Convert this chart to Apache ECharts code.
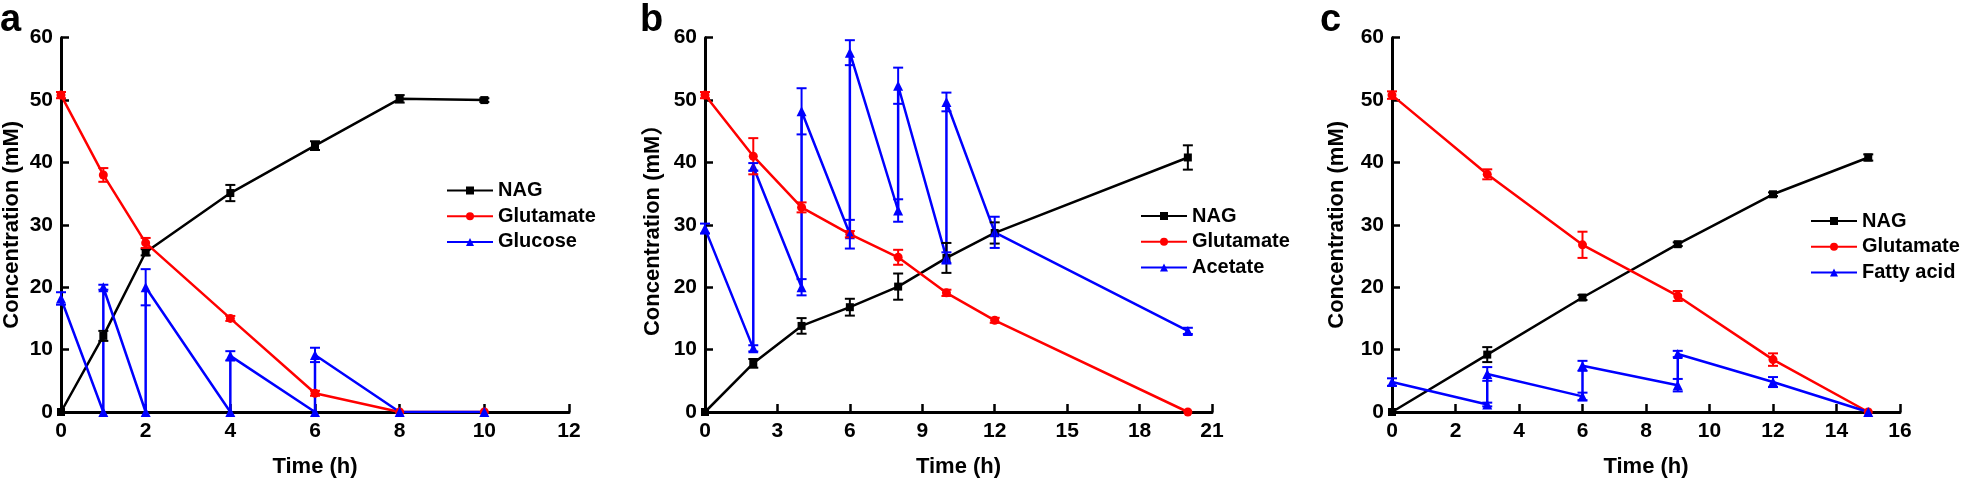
<!DOCTYPE html>
<html>
<head>
<meta charset="utf-8">
<script src="https://cdn.jsdelivr.net/npm/echarts@6/dist/echarts.min.js"></script>
<style>html,body{margin:0;padding:0;background:#fff}#c{width:1961px;height:479px}</style>
</head>
<body>
<div id="c"></div>
<script>
// ---------- data ----------
// panel a
const aTime = [0, 1, 2, 4, 6, 8, 10];
const aNAG = [0, 12.2, 25.6, 35.1, 42.7, 50.2, 50.0];
const aNAGErr = [0, 0.8, 0.5, 1.3, 0.7, 0.6, 0.3];
const aGlu = [50.8, 38.0, 27.1, 15.0, 3.0, 0, 0];
const aGluErr = [0.5, 1.1, 0.8, 0.4, 0.4, 0, 0];
const aCoTime = [0, 1, 1, 2, 2, 4, 4, 6, 6, 8, 10];
const aCo = [18.2, 0, 20.0, 0, 20.0, 0, 9.0, 0, 9.15, 0, 0];
const aCoErr = [1.0, 0, 0.4, 0, 2.9, 0, 0.75, 0, 1.15, 0, 0];
const aXTicks = { min: 0, max: 12, interval: 2 };
// panel b
const bTime = [0, 2, 4, 6, 8, 10, 12, 20];
const bNAG = [0, 7.8, 13.8, 16.8, 20.1, 24.7, 28.7, 40.8];
const bNAGErr = [0, 0.7, 1.25, 1.35, 2.1, 2.4, 1.7, 1.95];
const bGlu = [50.8, 41.0, 32.8, 28.5, 24.8, 19.1, 14.7, 0];
const bGluErr = [0.5, 2.9, 0.8, 0.5, 1.2, 0.5, 0.4, 0];
const bCoTime = [0, 2, 2, 4, 4, 6, 6, 8, 8, 10, 10, 12, 20];
const bCo = [29.4, 10.2, 39.3, 20.0, 48.2, 28.5, 57.6, 32.3, 52.3, 24.7, 49.7, 28.8, 13.0];
const bCoErr = [0.8, 0.5, 0.6, 1.3, 3.7, 2.3, 2.0, 1.8, 2.9, 0.9, 1.5, 2.5, 0.5];
const bXTicks = { min: 0, max: 21, interval: 3 };
// panel c
const cTime = [0, 3, 6, 9, 12, 15];
const cNAG = [0, 9.2, 18.35, 26.9, 34.9, 40.8];
const cNAGErr = [0, 1.2, 0.4, 0.3, 0.3, 0.5];
const cGlu = [50.8, 38.1, 26.8, 18.6, 8.4, 0];
const cGluErr = [0.6, 0.8, 2.1, 0.8, 1.0, 0];
const cCoTime = [0, 3, 3, 6, 6, 9, 9, 12, 15];
const cCo = [4.8, 1.2, 6.1, 2.5, 7.4, 4.3, 9.3, 4.8, 0];
const cCoErr = [0.6, 0.3, 1.1, 0.6, 0.8, 1.0, 0.5, 0.8, 0];
const cXTicks = { min: 0, max: 16, interval: 2 };

const yTicks = { min: 0, max: 60, interval: 10 };
const panelLetters = ['a', 'b', 'c'];
const coNames = ['Glucose', 'Acetate', 'Fatty acid'];
const yNames = ['Concentration (mM)', 'Concentration (mM\uFF09', 'Concentration (mM)'];
const xName = 'Time (h)';

// ---------- chart ----------
const FONT = '"Liberation Sans", Arial, "Noto Sans CJK SC", sans-serif';
const BLACK = '#000000', RED = '#ff0000', BLUE = '#0000ff';

const panels = [
  { t: aTime, nag: aNAG, nagE: aNAGErr, glu: aGlu, gluE: aGluErr, ct: aCoTime, co: aCo, coE: aCoErr, xt: aXTicks,
    grid: { left: 61, width: 508 }, legend: { left: 446, top: 178 }, yGap: 38, letterX: 0 },
  { t: bTime, nag: bNAG, nagE: bNAGErr, glu: bGlu, gluE: bGluErr, ct: bCoTime, co: bCo, coE: bCoErr, xt: bXTicks,
    grid: { left: 705, width: 507 }, legend: { left: 1140, top: 203.5 }, yGap: 41, letterX: 640 },
  { t: cTime, nag: cNAG, nagE: cNAGErr, glu: cGlu, gluE: cGluErr, ct: cCoTime, co: cCo, coE: cCoErr, xt: cXTicks,
    grid: { left: 1392, width: 508 }, legend: { left: 1810, top: 208.5 }, yGap: 44, letterX: 1320 }
];

function pairs(xs, ys) { return xs.map((x, i) => [x, ys[i]]); }
function triples(xs, ys, es) { return xs.map((x, i) => [x, ys[i], es[i]]); }

function errRender(color) {
  return function (params, api) {
    const x = api.value(0), y = api.value(1), e = api.value(2);
    if (!e) return null;
    const top = api.coord([x, y + e]);
    const bot = api.coord([x, y - e]);
    const w = 5;
    const st = { stroke: color, lineWidth: 2 };
    return {
      type: 'group',
      children: [
        { type: 'line', shape: { x1: top[0], y1: top[1], x2: bot[0], y2: bot[1] }, style: st },
        { type: 'line', shape: { x1: top[0] - w, y1: top[1], x2: top[0] + w, y2: top[1] }, style: st },
        { type: 'line', shape: { x1: bot[0] - w, y1: bot[1], x2: bot[0] + w, y2: bot[1] }, style: st }
      ]
    };
  };
}

const grids = [], xAxes = [], yAxes = [], series = [], legends = [], graphics = [];
const axisLabelStyle = { color: BLACK, fontSize: 21, fontWeight: 'bold', fontFamily: FONT };
const nameStyle = { color: BLACK, fontSize: 22, fontWeight: 'bold', fontFamily: FONT };

panels.forEach((p, i) => {
  grids.push({ left: p.grid.left, width: p.grid.width, top: 37.7, bottom: 67, containLabel: false, outerBoundsMode: 'none' });
  xAxes.push({
    type: 'value', gridIndex: i, min: p.xt.min, max: p.xt.max, interval: p.xt.interval,
    name: xName, nameLocation: 'middle', nameGap: 44, nameTextStyle: nameStyle,
    axisLine: { show: true, lineStyle: { color: BLACK, width: 3 } },
    axisTick: { show: true, inside: true, length: 8, lineStyle: { color: BLACK, width: 2.5 } },
    axisLabel: Object.assign({ margin: 9 }, axisLabelStyle),
    splitLine: { show: false }
  });
  yAxes.push({
    type: 'value', gridIndex: i, min: yTicks.min, max: yTicks.max, interval: yTicks.interval,
    name: yNames[i], nameLocation: 'middle', nameGap: p.yGap, nameTextStyle: nameStyle,
    axisLine: { show: true, lineStyle: { color: BLACK, width: 3 } },
    axisTick: { show: true, inside: true, length: 8, lineStyle: { color: BLACK, width: 2.5 } },
    axisLabel: Object.assign({ margin: 8 }, axisLabelStyle),
    splitLine: { show: false }
  });
  const lines = [
    { name: 'NAG', data: pairs(p.t, p.nag), err: triples(p.t, p.nag, p.nagE), color: BLACK, symbol: 'rect', size: 8 },
    { name: 'Glutamate', data: pairs(p.t, p.glu), err: triples(p.t, p.glu, p.gluE), color: RED, symbol: 'circle', size: 9 },
    { name: coNames[i], data: pairs(p.ct, p.co), err: triples(p.ct, p.co, p.coE), color: BLUE, symbol: 'triangle', size: 10 }
  ];
  lines.forEach(l => {
    series.push({
      type: 'line', name: l.name, xAxisIndex: i, yAxisIndex: i, data: l.data,
      symbol: l.symbol, symbolSize: l.size, showSymbol: true,
      lineStyle: { color: l.color, width: 2.5 }, itemStyle: { color: l.color },
      emphasis: { disabled: true }, animation: false, z: 3
    });
    series.push({
      type: 'custom', name: l.name + ' err ' + i, xAxisIndex: i, yAxisIndex: i, data: l.err,
      renderItem: errRender(l.color), animation: false, z: 4,
      encode: { x: 0, y: 1 }
    });
  });
  legends.push({
    data: ['NAG', 'Glutamate', coNames[i]], orient: 'vertical', left: p.legend.left, top: p.legend.top + 1.5,
    padding: 0, itemWidth: 46, itemHeight: 10, itemGap: 3.7, selectedMode: false,
    textStyle: { color: BLACK, fontSize: 20, fontWeight: 'bold', fontFamily: FONT, lineHeight: 22 }
  });
  graphics.push({
    type: 'text', left: p.letterX, top: 2,
    style: { text: panelLetters[i], fill: BLACK, font: 'bold 38px ' + FONT }
  });
});

const chart = echarts.init(document.getElementById('c'), null, { renderer: 'canvas' });
chart.setOption({
  backgroundColor: '#ffffff',
  animation: false,
  grid: grids, xAxis: xAxes, yAxis: yAxes, series: series, legend: legends, graphic: graphics
});
</script>
</body>
</html>
